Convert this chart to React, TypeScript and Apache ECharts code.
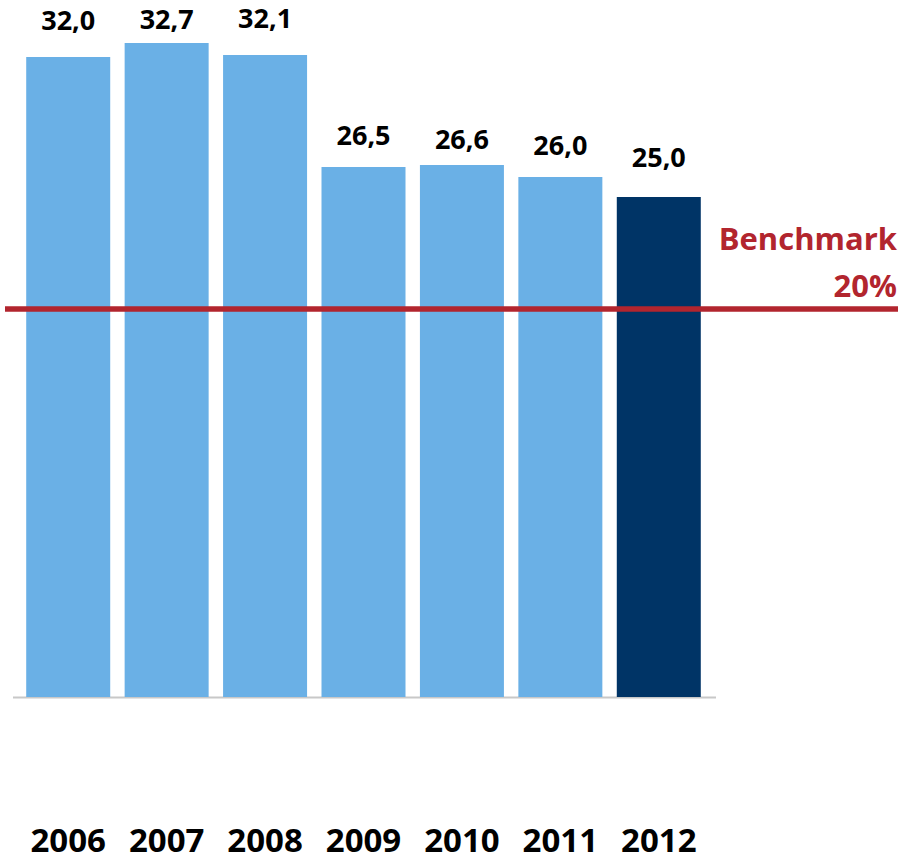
import React, { useEffect, useRef } from "react";
import * as echarts from "echarts";

const categories = ["2006", "2007", "2008", "2009", "2010", "2011", "2012"];
const values = [32.0, 32.7, 32.1, 26.5, 26.6, 26.0, 25.0];
const highlightIndex = 6;
const benchmarkLabel = ["Benchmark", "20%"];
const benchmarkLinePosition = 19.4;
// label gap above each bar (px), as placed in the original
const labelDistances = [24, 11, 24, 19, 13, 19, 27];

const LIGHT = "#6AB0E6";
const DARK = "#003466";
const RED = "#B2252E";
const FONT = "'Open Sans', 'Noto Sans', sans-serif";

export default function App() {
  const ref = useRef<HTMLDivElement>(null);
  useEffect(() => {
    if (!ref.current) return;
    const chart = echarts.init(ref.current, null, { renderer: "svg" });
    chart.setOption({
      animation: false,
      backgroundColor: "#ffffff",
      grid: { left: 19, width: 689, top: 0, height: 697 },
      xAxis: {
        type: "category",
        data: categories,
        axisLine: { show: false },
        axisTick: { show: false },
        axisLabel: {
          interval: 0,
          margin: 128,
          fontFamily: FONT,
          fontWeight: "bold",
          fontSize: 33,
          lineHeight: 28,
          color: "#000000",
        },
      },
      yAxis: {
        type: "value",
        min: 0,
        max: 34.85,
        show: false,
        splitLine: { show: false },
      },
      graphic: [
        {
          type: "line",
          z: -1,
          shape: { x1: 13, y1: 697.5, x2: 716, y2: 697.5 },
          style: { stroke: "#C8C8C8", lineWidth: 2 },
        },
      ],
      series: [
        {
          type: "bar",
          barWidth: 84,
          data: values.map((v, i) => ({
            value: v,
            itemStyle: { color: i === highlightIndex ? DARK : LIGHT },
            label: { distance: labelDistances[i] },
          })),
          label: {
            show: true,
            position: "top",
            fontFamily: FONT,
            fontWeight: "bold",
            fontSize: 27,
            color: "#000000",
            formatter: (p: any) => p.value.toFixed(1).replace(".", ","),
          },
          markLine: {
            symbol: "none",
            silent: true,
            lineStyle: { color: RED, width: 5.5, type: "solid" },
            label: {
              show: true,
              position: "insideEndTop",
              formatter: benchmarkLabel.join("\n"),
              fontFamily: FONT,
              fontWeight: "bold",
              fontSize: 31,
              lineHeight: 47,
              color: RED,
              align: "right",
              distance: 1,
            },
            data: [
              [
                { x: 5, yAxis: benchmarkLinePosition },
                { x: 898, yAxis: benchmarkLinePosition },
              ],
            ],
          },
        },
      ],
    });
    return () => chart.dispose();
  }, []);
  return (
    <div
      ref={ref}
      style={{ position: "fixed", left: 0, top: 0, width: 902, height: 863 }}
    />
  );
}
